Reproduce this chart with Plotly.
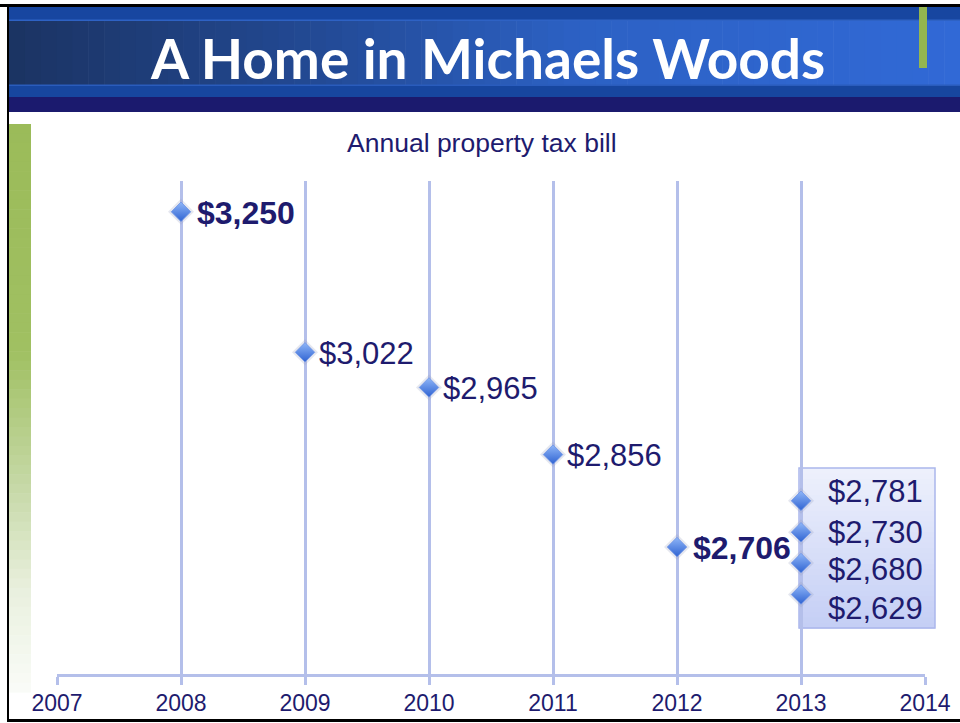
import plotly.graph_objects as go

# ---------------- data ----------------
years = [2008, 2009, 2010, 2011, 2012, 2013, 2013, 2013, 2013]
tax_bill = [3250, 3022, 2965, 2856, 2706, 2781, 2730, 2680, 2629]
emphasized = [True, False, False, False, True, False, False, False, False]
tick_years = [2007, 2008, 2009, 2010, 2011, 2012, 2013, 2014]
chart_title = "Annual property tax bill"
slide_title = "A Home in Michaels Woods"

# ---------------- geometry helpers (pixel -> paper) ----------------
W, H = 960, 723
L, R, T, B = 57, 925, 181, 674


def px(x):
    return (x - L) / (R - L)


def py(y):
    return (B - y) / (B - T)


def hexc(rgb):
    return "#%02x%02x%02x" % tuple(int(round(c)) for c in rgb)


def interp(stops, t):
    for (t0, c0), (t1, c1) in zip(stops[:-1], stops[1:]):
        if t0 <= t <= t1:
            f = 0 if t1 == t0 else (t - t0) / (t1 - t0)
            return hexc([a + (b - a) * f for a, b in zip(c0, c1)])
    return hexc(stops[-1][1])


shapes = []


def rect(x0, y0, x1, y1, color, line=None, layer="below", width=0):
    shapes.append(dict(type="rect", xref="paper", yref="paper",
                       x0=px(x0), x1=px(x1), y0=py(y1), y1=py(y0),
                       fillcolor=color, layer=layer,
                       line=dict(width=width, color=line or color)))


# black frame
rect(0, 4, 960, 7, "#000000")
rect(7, 4, 9, 722, "#000000")
rect(7, 719, 960, 722, "#000000")

# title band
rect(9, 7, 960, 20, "#1746a0")
band_stops = [(0, (27, 51, 98)), (0.3, (34, 72, 145)), (0.6, (44, 97, 196)), (1, (49, 105, 214))]
n = 60
for i in range(n):
    x0 = 9 + (960 - 9) * i / n
    x1 = 9 + (960 - 9) * (i + 1) / n + 0.6
    rect(x0, 20, x1, 85, interp(band_stops, (i + 0.5) / n))
rect(9, 19.5, 960, 21, "#2e62c4")
rect(9, 85, 960, 97, "#17469f")
rect(9, 84.5, 960, 86, "#2a5cbc")
rect(9, 97, 960, 112, "#1b1a6e")
rect(919, 7, 927, 68, "#94b64f")

# left green bar fading to white
green_stops = [(0, (155, 187, 89)), (0.4, (160, 192, 98)), (0.65, (200, 218, 170)),
               (0.82, (233, 240, 222)), (1, (250, 252, 248))]
n = 60
for i in range(n):
    y0 = 124 + (692 - 124) * i / n
    y1 = 124 + (692 - 124) * (i + 1) / n + 0.6
    rect(9, y0, 31, y1, interp(green_stops, (i + 0.5) / n))

# highlight box for 2013 quarterly values
box_stops = [(0, (238, 241, 252)), (1, (196, 206, 245))]
n = 30
for i in range(n):
    y0 = 468 + (628 - 468) * i / n
    y1 = 468 + (628 - 468) * (i + 1) / n + 0.6
    rect(799, y0, 935, y1, interp(box_stops, (i + 0.5) / n))
shapes.append(dict(type="rect", xref="paper", yref="paper", x0=px(799), x1=px(935),
                   y0=py(628), y1=py(468), layer="below",
                   line=dict(color="#aab7ec", width=1.5), fillcolor="rgba(0,0,0,0)"))

TXT = "#1e1b6e"
FONT = "Liberation Sans, Arial, sans-serif"

fig = go.Figure()
# soft glow under markers
fig.add_trace(go.Scatter(
    x=years, y=tax_bill, mode="markers", hoverinfo="skip",
    marker=dict(symbol="diamond", size=20, color="rgba(150,160,190,0.25)", line=dict(width=0)),
    cliponaxis=False, showlegend=False))
fig.add_trace(go.Scatter(
    x=years, y=tax_bill, mode="markers",
    marker=dict(symbol="diamond", size=15, color="#8fb6f8",
                gradient=dict(type="vertical", color="#2f63d2"),
                line=dict(width=0.8, color="#6d93e6")),
    cliponaxis=False, showlegend=False))

annotations = []
# data labels
box_idx = [j for j in range(len(years)) if years[j] == 2013]
for i, (yr, v, em) in enumerate(zip(years, tax_bill, emphasized)):
    if i in box_idx:
        k = box_idx.index(i)
        yshift = [9, 0, -6, -14][k]
        xshift = 25
    else:
        yshift = -1
        xshift = 14 if em else 12
    text = "${:,}".format(v)
    if em:
        text = "<b>" + text + "</b>"
    annotations.append(dict(x=yr, y=v, xref="x", yref="y", text=text, showarrow=False,
                            xanchor="left", yanchor="middle", xshift=xshift, yshift=yshift,
                            font=dict(family=FONT, size=32 if em else 31, color=TXT)))

annotations.append(dict(x=px(482), y=py(143), xref="paper", yref="paper", text=chart_title,
                        showarrow=False, xanchor="center", yanchor="middle",
                        font=dict(family=FONT, size=26.5, color=TXT)))
annotations.append(dict(x=px(487), y=py(58), xref="paper", yref="paper", text="<b>" + slide_title + "</b>",
                        showarrow=False, xanchor="center", yanchor="middle",
                        font=dict(family="Lato, Open Sans, sans-serif", size=55, color="#ffffff")))

GRID = "#b4bfea"
fig.update_layout(
    width=W, height=H, autosize=False,
    margin=dict(l=L, r=W - R, t=T, b=H - B, pad=0, autoexpand=False),
    paper_bgcolor="#ffffff", plot_bgcolor="rgba(0,0,0,0)",
    shapes=shapes, annotations=annotations, showlegend=False,
    xaxis=dict(range=[tick_years[0], tick_years[-1]], tickvals=tick_years,
               ticktext=[str(t) for t in tick_years], automargin=False,
               showgrid=True, gridcolor=GRID, gridwidth=3,
               showline=True, linecolor=GRID, linewidth=3,
               ticks="outside", ticklen=8, tickwidth=3, tickcolor=GRID,
               ticklabelstandoff=-2,
               tickfont=dict(family=FONT, size=23, color=TXT), zeroline=False, fixedrange=True),
    yaxis=dict(range=[2500, 3300], visible=False, showgrid=False, zeroline=False,
               fixedrange=True, automargin=False),
)

fig.write_html("out.html", config={"displayModeBar": False},
               post_script="document.body.style.margin='0';")
